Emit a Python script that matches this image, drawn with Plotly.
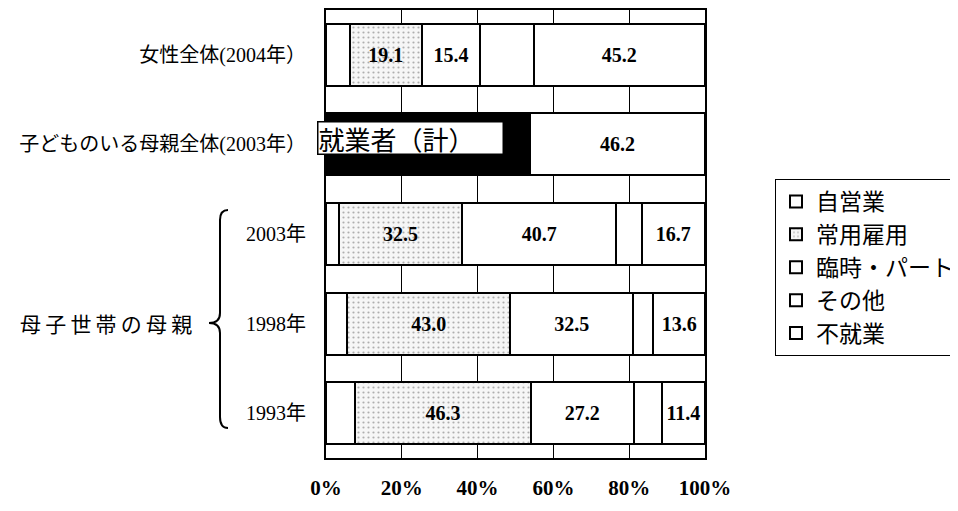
import plotly.graph_objects as go

# ---- data ----
categories = ["女性全体(2004年）", "子どものいる母親全体(2003年）", "2003年", "1998年", "1993年"]
employed_total = [None, 53.8, None, None, None]      # 就業者（計）
self_employed = [6.2, None, 3.4, 5.6, 7.7]           # 自営業
regular = [19.1, None, 32.5, 43.0, 46.3]             # 常用雇用
part_time = [15.4, None, 40.7, 32.5, 27.2]           # 臨時・パート
other = [14.1, None, 6.7, 5.3, 7.4]                  # その他
not_working = [45.2, 46.2, 16.7, 13.6, 11.4]         # 不就業
x_ticks = [0, 20, 40, 60, 80, 100]
x_tick_labels = ["0%", "20%", "40%", "60%", "80%", "100%"]

# ---- layout helpers (page pixel -> paper); page has an 8px body margin ----
OFF = 8
W, H = 958 - OFF, 511 - OFF
L, R, T, B = 326, 705, 10, 458          # plot area in page pixels
def px(x):
    return (x - L) / (R - L)
def py(y):
    return (B - y) / (B - T)

num_font = dict(family="Liberation Serif", size=20, color="black", weight="bold")
line = dict(color="black", width=2)

fig = go.Figure()
fig.add_trace(go.Bar(y=categories, x=employed_total, orientation="h", name="就業者（計）",
                     marker=dict(color="black", line=line), showlegend=False,
                     hoverinfo="skip"))
fig.add_trace(go.Bar(y=categories, x=self_employed, orientation="h", name="自営業",
                     marker=dict(color="white", line=line)))
fig.add_trace(go.Bar(y=categories, x=regular, orientation="h", name="常用雇用",
                     marker=dict(color="white", line=line,
                                 pattern=dict(shape=".", fgcolor="#666666", bgcolor="#f6f6f6",
                                              size=5, solidity=0.15)),
                     text=[f"{v:.1f}" if v is not None else "" for v in regular],
                     textposition="inside", insidetextanchor="middle", textangle=0,
                     textfont=num_font))
fig.add_trace(go.Bar(y=categories, x=part_time, orientation="h", name="臨時・パート",
                     marker=dict(color="white", line=line),
                     text=[f"{v:.1f}" if v is not None else "" for v in part_time],
                     textposition="inside", insidetextanchor="middle", textangle=0,
                     textfont=num_font))
fig.add_trace(go.Bar(y=categories, x=other, orientation="h", name="その他",
                     marker=dict(color="white", line=line)))
fig.add_trace(go.Bar(y=categories, x=not_working, orientation="h", name="不就業",
                     marker=dict(color="white", line=line),
                     text=[f"{v:.1f}" for v in not_working],
                     textposition="inside", insidetextanchor="middle", textangle=0,
                     textfont=num_font))

fig.update_layout(
    width=W, height=H,
    margin=dict(l=L - OFF, r=W - (R - OFF), t=T - OFF, b=H - (B - OFF), autoexpand=False),
    paper_bgcolor="white", plot_bgcolor="white",
    barmode="stack", bargap=0.31,
    font=dict(family="Liberation Serif, Noto Sans CJK JP", color="black"),
    xaxis=dict(range=[0, 100], tickvals=x_ticks, ticktext=x_tick_labels,
               showgrid=True, gridcolor="black", gridwidth=1,
               showline=True, mirror=True, linecolor="black", linewidth=2,
               ticks="outside", ticklen=10, tickcolor="white", zeroline=False,
               tickfont=dict(family="Liberation Serif", size=21, color="black", weight="bold")),
    yaxis=dict(range=[4.5, -0.5], showgrid=False,
               showline=True, mirror=True, linecolor="black", linewidth=2,
               ticks="outside", ticklen=14, tickcolor="white",
               tickfont=dict(family="Liberation Serif, Noto Sans CJK JP", size=20, color="black")),
    legend=dict(x=px(775), y=py(179), xanchor="left", yanchor="top",
                bordercolor="black", borderwidth=1, traceorder="normal",
                font=dict(family="Noto Sans CJK JP", size=23, color="black"),
                bgcolor="white"),
    showlegend=True,
)

# label box on the black bar
fig.add_annotation(xref="paper", yref="paper", x=px(317), y=py(138.5),
                   xanchor="left", yanchor="middle", text="就業者（計）",
                   showarrow=False, align="left", width=184, height=31,
                   bgcolor="white", bordercolor="black", borderwidth=1.5, borderpad=0,
                   font=dict(family="Noto Sans CJK JP", size=26, color="black"))

# brace for 母子世帯の母親
x1, x2, x3 = px(228), px(220), px(209)
ya, yb, yc, yd, ye = py(210), py(220), py(323), py(417), py(428)
brace = (f"M {x1},{ya} Q {x2},{ya} {x2},{yb} L {x2},{py(313)} "
         f"Q {x2},{yc} {x3},{yc} Q {x2},{yc} {x2},{py(333)} "
         f"L {x2},{yd} Q {x2},{ye} {x1},{ye}")
fig.add_shape(type="path", xref="paper", yref="paper", path=brace,
              line=dict(color="black", width=2))
fig.add_annotation(xref="paper", yref="paper", x=px(194), y=py(323),
                   xanchor="right", yanchor="middle",
                   text="\u2009".join("母子世帯の母親"),
                   showarrow=False,
                   font=dict(family="Noto Sans CJK JP", size=21, color="black"))

fig.write_html("out.html")
